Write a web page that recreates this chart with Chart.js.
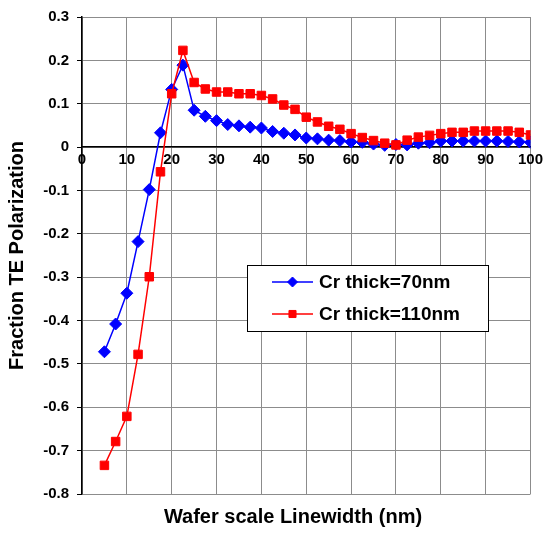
<!DOCTYPE html>
<html lang="en">
<head>
<meta charset="UTF-8">
<title>Fraction TE Polarization vs Linewidth</title>
<style>
  html, body { margin: 0; padding: 0; background: #fff; }
  #wrap { width: 547px; height: 535px; }
</style>
</head>
<body>
<div id="wrap"><canvas id="teChart" width="547" height="535"></canvas></div>
<script src="https://cdn.jsdelivr.net/npm/chart.js"></script>
<script>
// Linewidth samples (nm)
const linewidths = [5, 7.5, 10, 12.5, 15, 17.5, 20, 22.5, 25, 27.5, 30, 32.5, 35, 37.5, 40, 42.5, 45, 47.5, 50,
  52.5, 55, 57.5, 60, 62.5, 65, 67.5, 70, 72.5, 75, 77.5, 80, 82.5, 85, 87.5, 90, 92.5, 95, 97.5, 100];

// Fraction of TE polarization, Cr thickness 70 nm
const cr70 = [-0.472, -0.408, -0.337, -0.218, -0.098, 0.033, 0.133, 0.189, 0.085, 0.071, 0.061, 0.052, 0.049, 0.046, 0.044, 0.036, 0.032, 0.028, 0.021,
  0.019, 0.016, 0.015, 0.012, 0.011, 0.007, 0.004, 0.006, 0.005, 0.009, 0.010, 0.014, 0.014, 0.014, 0.014, 0.014, 0.014, 0.013, 0.012, 0.011];

// Fraction of TE polarization, Cr thickness 110 nm
const cr110 = [-0.734, -0.679, -0.621, -0.478, -0.299, -0.057, 0.123, 0.223, 0.149, 0.134, 0.127, 0.127, 0.123, 0.123, 0.119, 0.111, 0.097, 0.087, 0.069,
  0.058, 0.048, 0.041, 0.031, 0.022, 0.015, 0.009, 0.005, 0.016, 0.023, 0.027, 0.031, 0.034, 0.034, 0.037, 0.037, 0.037, 0.037, 0.034, 0.028];

const seriesLabels = ['Cr thick=70nm', 'Cr thick=110nm'];
const xTitle = 'Wafer scale Linewidth (nm)';

const toPoints = (ys) => ys.map((y, i) => ({ x: linewidths[i], y: y }));

const FONT = 'Liberation Sans, Arial, sans-serif';

// legend box inside the plot area, plus the x axis title under the plot
const boxLegend = {
  id: 'boxLegend',
  afterDraw(chart) {
    const ctx = chart.ctx;
    const x0 = 247, y0 = 265, w = 241, h = 66;
    ctx.save();
    ctx.fillStyle = '#fff';
    ctx.fillRect(x0, y0, w, h);
    ctx.strokeStyle = '#000';
    ctx.lineWidth = 1;
    ctx.strokeRect(x0 + 0.5, y0 + 0.5, w, h);
    ctx.font = 'bold 19px ' + FONT;
    ctx.textBaseline = 'middle';
    chart.data.datasets.forEach((ds, i) => {
      const cy = y0 + 17 + i * 32;
      ctx.strokeStyle = ds.borderColor;
      ctx.fillStyle = ds.backgroundColor;
      ctx.lineWidth = 1.5;
      ctx.beginPath();
      ctx.moveTo(x0 + 25, cy);
      ctx.lineTo(x0 + 66, cy);
      ctx.stroke();
      ctx.lineWidth = 1;
      Chart.helpers.drawPoint(ctx, {
        pointStyle: ds.pointStyle, radius: ds.pointRadius - 1, borderWidth: 1
      }, x0 + 45.5, cy);
      ctx.fillStyle = '#000';
      ctx.fillText(ds.label, x0 + 72, cy + 1);
    });

    ctx.font = 'bold 20px ' + FONT;
    ctx.textAlign = 'center';
    ctx.fillStyle = '#000';
    ctx.fillText(xTitle, 293, chart.chartArea.bottom + 23);
    ctx.restore();
  }
};

new Chart(document.getElementById('teChart'), {
  type: 'line',
  data: {
    datasets: [
      {
        label: seriesLabels[0],
        data: toPoints(cr70),
        borderColor: '#0000ff',
        backgroundColor: '#0000ff',
        borderWidth: 1.5,
        pointStyle: 'rectRot',
        pointRadius: 6,
        pointBorderWidth: 1,
        order: 2
      },
      {
        label: seriesLabels[1],
        data: toPoints(cr110),
        borderColor: '#ff0000',
        backgroundColor: '#ff0000',
        borderWidth: 1.5,
        pointStyle: 'rect',
        pointRadius: 6,
        pointBorderWidth: 1,
        order: 1
      }
    ]
  },
  options: {
    responsive: false,
    animation: false,
    layout: { padding: { top: 17, right: 15, left: 0, bottom: 41 } },
    plugins: {
      legend: { display: false },
      tooltip: { enabled: false }
    },
    scales: {
      x: {
        type: 'linear',
        position: { y: 0 },
        min: 0,
        max: 100,
        ticks: {
          stepSize: 10,
          color: '#000',
          padding: 4,
          font: { family: FONT, size: 15, weight: 'bold' }
        },
        grid: { color: '#8c8c8c', lineWidth: 1, drawTicks: false },
        border: { display: true, color: '#000', width: 1.5 }
      },
      y: {
        min: -0.8,
        max: 0.3,
        afterFit(scale) { scale.width = 82; },
        ticks: {
          stepSize: 0.1,
          color: '#000',
          padding: 8,
          font: { family: FONT, size: 15, weight: 'bold' },
          callback: (v) => String(Math.round(v * 10) / 10)
        },
        grid: { color: '#8c8c8c', lineWidth: 1, tickLength: 5, tickColor: '#000' },
        border: { display: true, color: '#000', width: 1.5 },
        title: {
          display: true,
          text: 'Fraction TE Polarization',
          color: '#000',
          font: { family: FONT, size: 20, weight: 'bold' },
          padding: { top: 5, bottom: 0 }
        }
      }
    }
  },
  plugins: [boxLegend]
});
</script>
</body>
</html>
